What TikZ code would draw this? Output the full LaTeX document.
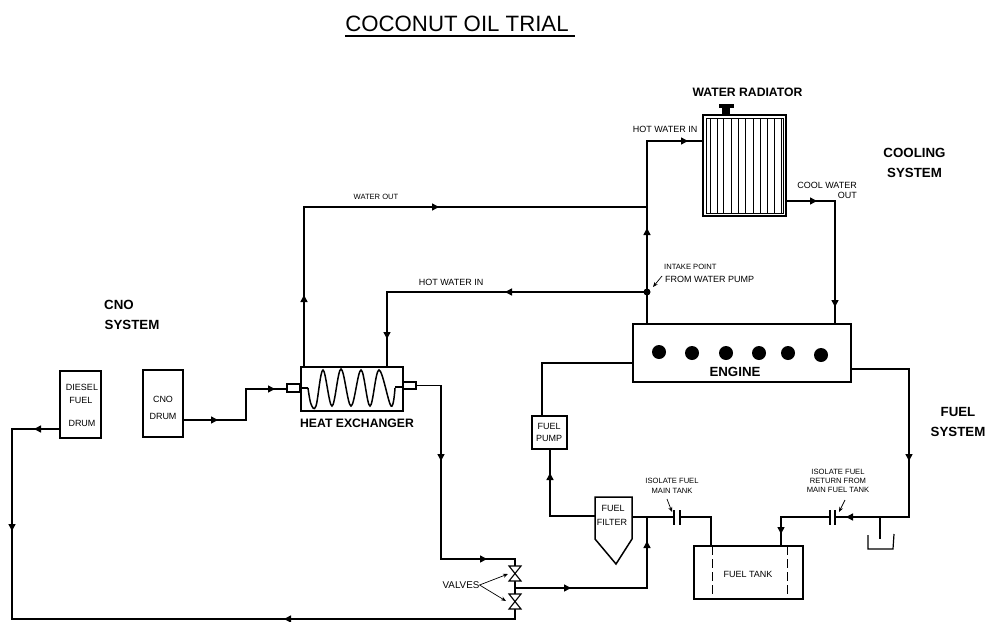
\documentclass[tikz,border=0pt]{standalone}
\usepackage{fontspec}
\setmainfont{Liberation Sans}
\usetikzlibrary{arrows.meta, positioning, calc}
\definecolor{Pipe_Black}{HTML}{000000}
\tikzset{
  pipe/.style={draw=Pipe_Black, line width=1.5pt, line join=miter},
  flow/.style={pipe, -{Triangle[length=7pt, width=7pt]}},
  leader/.style={draw=Pipe_Black, line width=0.7pt, -{Stealth[length=5pt, width=4pt]}},
  unit/.style={draw=Pipe_Black, line width=1.5pt, inner sep=0pt, outer sep=0pt, fill=white},
  tiny label/.style={font=\fontsize{7.6}{8}\selectfont, inner sep=0pt},
  small label/.style={font=\fontsize{9}{10}\selectfont, inner sep=0pt},
  heavy label/.style={font=\fontsize{12.2}{14}\selectfont\bfseries, inner sep=0pt},
  system label/.style={font=\fontsize{13.3}{20}\selectfont\bfseries, inner sep=0pt},
}
\begin{document}
\begin{tikzpicture}[x=1pt, y=-1pt]
\useasboundingbox (0,0) rectangle (993,621);
% Title
\node[font=\fontsize{22.2}{24}\selectfont, inner sep=0pt] (title) at (457,24) {COCONUT OIL TRIAL};
\draw[line width=1.5pt] (345,36) coordinate (ulA) -- (575,36) coordinate (ulB);
% Junctions
\coordinate (hotIn) at (703,141);
\coordinate (hotCorner) at (647,141);
\coordinate (outJoin) at (647,207);
\coordinate (outCorner) at (304,207);
\coordinate (intake) at (647,292);
\coordinate (hxCorner) at (387,292);
\coordinate (coolOut) at (786,201);
\coordinate (coolCorner) at (835,201);
\coordinate (engL) at (633,363);
\coordinate (engLC) at (542,363);
\coordinate (engR) at (851,369);
\coordinate (retCorner) at (909,369);
\coordinate (retLow) at (909,517);
\coordinate (retTank) at (781,517);
\coordinate (filterIn) at (550,516);
\coordinate (filterOut) at (632,517);
\coordinate (mainTee) at (647,517);
\coordinate (mainCorner) at (711,517);
\coordinate (valveTop) at (515,559);
\coordinate (valveMid) at (515,588);
\coordinate (valveLow) at (515,619);
\coordinate (hxDown) at (441,385.5);
\coordinate (hxLow) at (441,559);
\coordinate (feedCorner) at (647,588);
\coordinate (lowLeft) at (12,619);
\coordinate (upLeft) at (12,429);
% Cooling circuit
\draw[pipe] (647,324) -- (hotCorner) -- (hotIn);
\draw[pipe] (outJoin) -- (outCorner) -- (304,367);
\draw[pipe] (intake) -- (hxCorner) -- (387,367);
\draw[pipe] (coolOut) -- (coolCorner) -- (835,324);
\fill (intake) circle (3.5);
% Fuel circuit
\draw[pipe] (engL) -- (engLC) -- (542,417);
\draw[pipe] (550,449) -- (filterIn) -- (595,516);
\draw[pipe] (filterOut) -- (673,517);
\draw[pipe] (680,517) -- (mainCorner) -- (711,546);
\draw[pipe] (engR) -- (retCorner) -- (retLow) -- (836,517);
\draw[pipe] (829,517) -- (retTank) -- (781,546);
% CNO feed
\draw[pipe] (183,420) -- (246,420) -- (246,389) -- (287,389);
% Return to valves
\draw[pipe] (416,385.5) -- (hxDown) -- (hxLow) -- (valveTop) -- (valveLow) -- (lowLeft) -- (upLeft) -- (60,429);
% Valve outlet
\draw[pipe] (valveMid) -- (feedCorner) -- (mainTee);
% Flow tips
\draw[flow] (428,207) -- (439,207);
\draw[flow] (304,306) -- (304,295);
\draw[flow] (517,292) -- (505,292);
\draw[flow] (387,328) -- (387,339);
\draw[flow] (647,239) -- (647,228);
\draw[flow] (677,141) -- (688,141);
\draw[flow] (806,201) -- (817,201);
\draw[flow] (835,296) -- (835,307);
\draw[flow] (909,450) -- (909,461);
\draw[flow] (857,517) -- (846,517);
\draw[flow] (781,523) -- (781,534);
\draw[flow] (550,484) -- (550,473);
\draw[flow] (647,552) -- (647,541);
\draw[flow] (560,588) -- (571,588);
\draw[flow] (476,559) -- (487,559);
\draw[flow] (441,450) -- (441,461);
\draw[flow] (295,619) -- (284,619);
\draw[flow] (12,520) -- (12,531);
\draw[flow] (45,429) -- (34,429);
\draw[flow] (207,420) -- (218,420);
\draw[flow] (264,389) -- (275,389);
% Units
\node[unit, minimum width=83pt, minimum height=101pt] (radiator) at (744.5,165.5) {};
\node[unit, minimum width=218pt, minimum height=58pt] (engine) at (742,353) {};
\node[unit, minimum width=102pt, minimum height=44pt] (exchanger) at (352,389) {};
\node[unit, minimum width=41pt, minimum height=67pt] (diesel) at (80.5,404.5) {};
\node[unit, minimum width=40pt, minimum height=67pt] (cno) at (163,403.5) {};
\node[unit, minimum width=35pt, minimum height=33pt] (pump) at (549.5,432.5) {};
\node[unit, minimum width=109pt, minimum height=53pt] (tank) at (748.5,572.5) {};
\node[unit, minimum width=13pt, minimum height=8pt] (portL) at (293.5,388) {};
\node[unit, minimum width=13pt, minimum height=7pt] (portR) at (409.5,385.5) {};
% Radiator details
\draw[line width=0.8pt] (706,118) rectangle (783,213);
\foreach \x in {710,717,723,731,738,745,753,760,767,774,781} {
  \draw[line width=0.8pt] (\x,118) -- (\x,213);
}
\fill (719,104) rectangle (734,108);
\fill (722,108) rectangle (730,115);
% Engine cylinders
\foreach \x/\y in {659/352,692/353,726/353,759/353,788/353,821/355} {
  \fill (\x,\y) circle (7);
}
% Exchanger coil
\draw[line width=1.5pt, smooth, tension=0.6] plot coordinates {(308,388) (311,404) (316,406) (323,370) (332,406) (341,369) (351,406) (361,370) (370,406) (379,370) (391,406) (395,388)};
\draw[line width=1.5pt] (301,388) -- (308,388) (395,387) -- (403,387);
% Fuel filter
\draw[unit] (595,497) coordinate (filterA) -- (632,497) coordinate (filterB) -- (632,539) -- (616,564) coordinate (filterTip) -- (595,539) -- cycle;
% Tank dashes
\draw[line width=0.8pt, dash pattern=on 9pt off 4pt] (712,546) -- (712,599);
\draw[line width=0.8pt, dash pattern=on 9pt off 4pt] (787,546) -- (787,599);
% Isolating couplings
\draw[line width=1.2pt] (674,510) -- (674,525) (680,510) -- (680,525);
\draw[line width=1.2pt] (830,510) -- (830,525) (835,510) -- (835,525);
% Drain pot
\draw[pipe, line width=1.2pt] (880,517) -- (880,539);
\draw[pipe, line width=1.2pt] (868,535) -- (868,549) -- (893,549) -- (894,534);
% Valves
\foreach \y in {566,594} {
  \draw[line width=1.1pt, fill=white] (509,\y) -- (521,\y) -- (509,\y+15) -- (521,\y+15) -- cycle;
}
% Labels
\node[heavy label] (lblRadiator) at (747.5,92) {WATER RADIATOR};
\node[small label] (lblHotTop) at (665,129) {HOT WATER IN};
\node[tiny label] (lblOut) at (376,197) {WATER OUT};
\node[small label] (lblHotLow) at (451,282) {HOT WATER IN};
\node[small label, anchor=east, align=right] (lblCool) at (857,190) {COOL WATER\\OUT};
\node[tiny label, anchor=west] (lblIntakeA) at (664,267) {INTAKE POINT};
\node[small label, anchor=west] (lblIntakeB) at (665,279) {FROM WATER PUMP};
\node[system label, align=center] (lblCooling) at (914.5,163) {COOLING\\SYSTEM};
\node[system label] (lblCnoA) at (119,305) {CNO};
\node[system label] (lblCnoB) at (132,325) {SYSTEM};
\node[system label, align=center] (lblFuel) at (958,422) {FUEL\\SYSTEM};
\node[font=\fontsize{13.3}{14}\selectfont\bfseries, inner sep=0pt] (lblEngine) at (735,372) {ENGINE};
\node[heavy label] (lblExchanger) at (357,423) {HEAT EXCHANGER};
\node[small label] (lblDieselA) at (82,387) {DIESEL};
\node[small label] (lblDieselB) at (81,400) {FUEL};
\node[small label] (lblDieselC) at (82,423) {DRUM};
\node[small label] (lblCnoDrumA) at (163,399) {CNO};
\node[small label] (lblCnoDrumB) at (163,416) {DRUM};
\node[small label] (lblPumpA) at (549,426) {FUEL};
\node[small label] (lblPumpB) at (549,438) {PUMP};
\node[small label] (lblFilterA) at (613,508) {FUEL};
\node[small label] (lblFilterB) at (612,522) {FILTER};
\node[small label] (lblTank) at (748,574) {FUEL TANK};
\node[tiny label, align=center] (lblIsoMain) at (672,485.5) {ISOLATE FUEL\\[2pt]MAIN TANK};
\node[tiny label, align=center] (lblIsoRet) at (838,480.5) {ISOLATE FUEL\\[1pt]RETURN FROM\\[1pt]MAIN FUEL TANK};
\node[font=\fontsize{9.8}{10}\selectfont, inner sep=0pt] (lblValves) at (461,585) {VALVES};
% Leaders
\draw[leader] (lblValves.east) -- (508,574);
\draw[leader] (lblValves.east) -- (506,601);
\draw[leader] (667,499) -- (672,512);
\draw[leader] (845,500) -- (839,512);
\draw[leader] (662,276) -- (653,287);
\end{tikzpicture}
\end{document}
